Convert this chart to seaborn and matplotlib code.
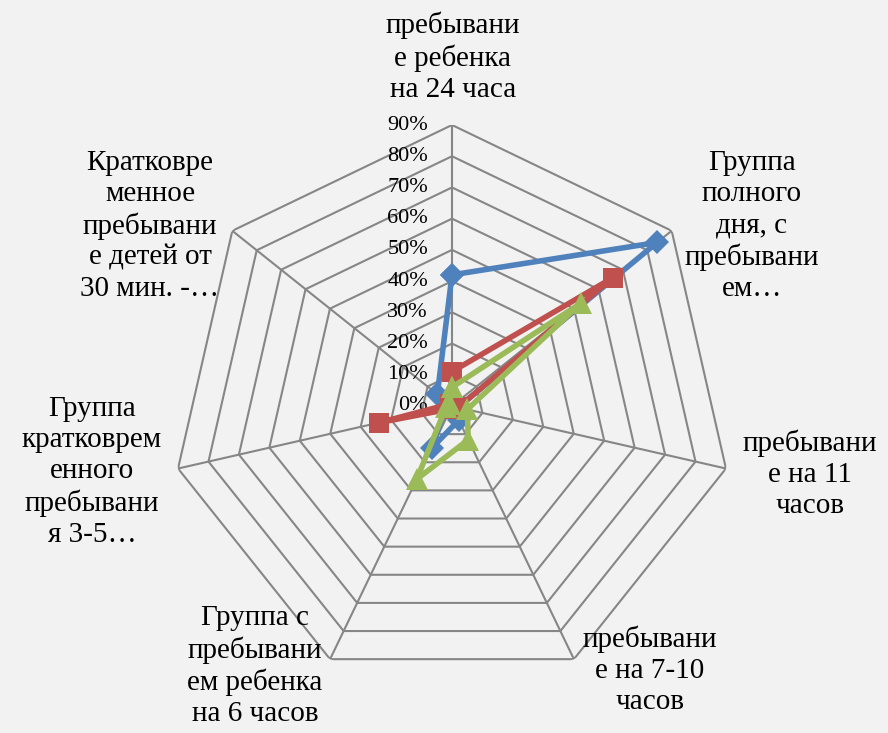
import numpy as np
import pandas as pd
import seaborn as sns
import matplotlib
matplotlib.use("Agg")
import matplotlib.pyplot as plt
from matplotlib.transforms import offset_copy

# categories (only the part of each label that is visible in the chart)
categories = [
    "пребывани\nе ребенка\nна 24 часа",
    "Группа\nполного\nдня, с\nпребывани\nем…",
    "пребывани\nе на 11\nчасов",
    "пребывани\nе на 7-10\nчасов",
    "Группа с\nпребывани\nем ребенка\nна 6 часов",
    "Группа\nкратковрем\nенного\nпребывани\nя 3-5…",
    "Кратковре\nменное\nпребывани\nе детей от\n30 мин. -…",
]
# series values, percent
blue_vals = [42, 84, 2, 5, 15, 2, 6]
red_vals = [11, 66, 2, 1, 1, 24, 1]
green_vals = [6, 53, 5, 12, 26, 2, 1]
ticks = [0, 10, 20, 30, 40, 50, 60, 70, 80, 90]
tick_labels = [f"{t}%" for t in ticks]

# label centres in pixels (x from left, y from top)
label_pos = [(453, 57), (752, 226), (810, 474), (650, 670),
             (255, 666), (92, 472), (150, 226)]

W, H = 888, 733
bg = "#F2F2F2"
grid_col = "#868686"
serif = ["Liberation Serif", "DejaVu Serif"]

sns.set_style("white")
plt.rcParams["font.family"] = serif

fig = plt.figure(figsize=(W / 100, H / 100), dpi=100, facecolor=bg)
cx, cy, R = 452, 406, 281
ax = fig.add_axes([(cx - R) / W, (H - cy - R) / H, 2 * R / W, 2 * R / H],
                  projection="polar")
ax.set_facecolor(bg)
ax.set_theta_zero_location("N")
ax.set_theta_direction(-1)
ax.set_ylim(0, 90)
ax.grid(False)
ax.spines["polar"].set_visible(False)
ax.set_xticks([])
ax.set_yticks([])

n = len(categories)
theta = np.arange(n) * 2 * np.pi / n
theta_c = np.append(theta, 2 * np.pi)

# heptagon grid
for t in ticks[1:]:
    ax.plot(theta_c, [t] * (n + 1), color=grid_col, lw=1.5, zorder=1)
for a in theta:
    ax.plot([a, a], [0, ticks[-1]], color=grid_col, lw=1.5, zorder=1)

# tick labels along the top spoke
tr = offset_copy(ax.transData, fig=fig, x=-24, y=0, units="dots")
for t, lab in zip(ticks, tick_labels):
    ax.text(0, t, lab, transform=tr, ha="right", va="center",
            fontsize=16, color="black")

series = [
    (blue_vals, "#4F81BD", "D", 12),
    (red_vals, "#C0504D", "s", 14),
    (green_vals, "#9BBB59", "^", 16),
]
for vals, col, mk, ms in series:
    df = pd.DataFrame({"theta": theta_c, "r": vals + vals[:1]})
    sns.lineplot(data=df, x="theta", y="r", ax=ax, sort=False, color=col,
                 lw=4, marker=mk, markersize=ms, markeredgewidth=0,
                 zorder=3)
ax.set_xlabel("")
ax.set_ylabel("")
ax.set_ylim(0, 90)

for lab, (px, py) in zip(categories, label_pos):
    fig.text(px / W, 1 - py / H, lab, ha="center", va="center",
             multialignment="center", fontsize=21, linespacing=1.25,
             color="black")

fig.savefig("out.png", dpi=100, facecolor=bg)
